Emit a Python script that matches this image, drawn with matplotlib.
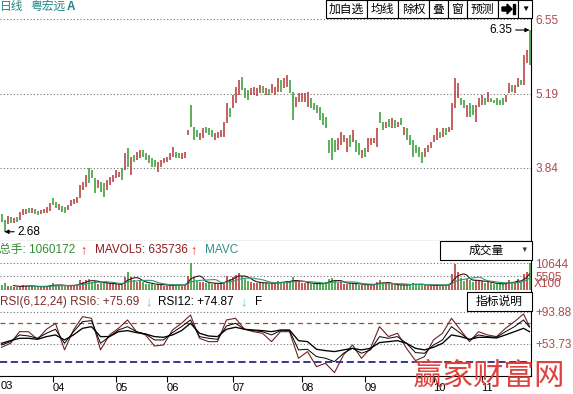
import numpy as np
import pandas as pd
import matplotlib
matplotlib.use('Agg')
import matplotlib.pyplot as plt
from matplotlib.patches import Rectangle, Polygon

plt.rcParams['font.family'] = ['Liberation Sans', 'Noto Sans CJK SC', 'DejaVu Sans']

# --- daily bars (粤宏远A, late March .. November) ---
highs = [3.00, 2.89, 2.97, 2.95, 2.93, 2.95, 3.04, 3.10, 3.10, 3.11,
         3.11, 3.10, 3.06, 3.08, 3.10, 3.13, 3.20, 3.30, 3.22, 3.19,
         3.15, 3.13, 3.17, 3.26, 3.28, 3.31, 3.53, 3.59, 3.71, 3.84,
         3.80, 3.66, 3.62, 3.59, 3.57, 3.62, 3.68, 3.71, 3.80, 3.77,
         3.84, 4.11, 4.20, 4.04, 4.08, 4.13, 4.17, 4.17, 4.11, 4.08,
         4.02, 3.99, 3.95, 3.99, 4.02, 4.04, 4.11, 4.22, 4.13, 4.11,
         4.11, 4.13, 4.53, 4.99, 4.59, 4.53, 4.48, 4.57, 4.59, 4.57,
         4.53, 4.48, 4.50, 4.53, 4.68, 5.02, 4.93, 5.17, 5.31, 5.44,
         5.50, 5.30, 5.26, 5.30, 5.31, 5.30, 5.35, 5.33, 5.30, 5.28,
         5.37, 5.31, 5.48, 5.44, 5.48, 5.53, 5.44, 5.22, 5.13, 5.20,
         5.20, 5.20, 5.22, 5.11, 5.02, 4.99, 4.95, 4.84, 4.77, 4.35,
         4.39, 4.35, 4.39, 4.50, 4.44, 4.39, 4.44, 4.53, 4.35, 4.30,
         4.17, 4.20, 4.39, 4.39, 4.39, 4.57, 4.86, 4.68, 4.68, 4.73,
         4.75, 4.71, 4.68, 4.75, 4.59, 4.57, 4.44, 4.35, 4.26, 4.22,
         4.13, 4.20, 4.26, 4.31, 4.44, 4.57, 4.50, 4.57, 4.57, 4.59,
         5.02, 5.48, 5.39, 5.11, 5.08, 4.99, 5.02, 4.99, 4.99, 5.11,
         5.17, 5.11, 5.22, 5.11, 5.08, 5.11, 5.08, 5.11, 5.17, 5.39,
         5.35, 5.35, 5.48, 5.44, 5.90, 5.99, 6.35]
lows = [2.86, 2.68, 2.82, 2.84, 2.84, 2.86, 2.89, 2.99, 3.00, 3.02,
        3.02, 3.00, 2.99, 3.00, 3.02, 3.02, 3.06, 3.17, 3.11, 3.08,
        3.04, 3.02, 3.08, 3.15, 3.19, 3.20, 3.30, 3.44, 3.50, 3.57,
        3.66, 3.39, 3.48, 3.40, 3.31, 3.44, 3.53, 3.59, 3.66, 3.68,
        3.62, 3.80, 3.86, 3.71, 3.95, 3.99, 4.02, 4.04, 3.99, 3.93,
        3.86, 3.86, 3.77, 3.86, 3.93, 3.95, 3.99, 4.04, 4.02, 4.02,
        4.00, 4.02, 4.44, 4.59, 4.35, 4.40, 4.35, 4.39, 4.48, 4.44,
        4.40, 4.35, 4.39, 4.40, 4.40, 4.66, 4.77, 4.93, 5.02, 5.17,
        5.26, 5.11, 5.08, 5.17, 5.17, 5.15, 5.20, 5.20, 5.17, 5.17,
        5.20, 5.17, 5.22, 5.22, 5.30, 5.31, 5.20, 4.71, 4.95, 5.04,
        5.04, 5.04, 4.95, 4.93, 4.90, 4.84, 4.71, 4.62, 4.57, 4.11,
        3.99, 4.13, 4.17, 4.26, 4.31, 4.13, 4.22, 4.31, 4.13, 4.08,
        4.02, 4.04, 4.13, 4.26, 4.30, 4.22, 4.66, 4.53, 4.57, 4.59,
        4.57, 4.57, 4.59, 4.62, 4.44, 4.35, 4.26, 4.04, 4.11, 4.04,
        3.93, 4.04, 4.13, 4.20, 4.31, 4.35, 4.39, 4.40, 4.44, 4.50,
        4.53, 4.93, 5.11, 4.99, 4.93, 4.77, 4.77, 4.80, 4.68, 4.95,
        4.99, 4.99, 5.04, 5.04, 5.02, 4.99, 4.99, 4.99, 5.04, 5.20,
        5.22, 5.20, 5.31, 5.35, 5.35, 5.75, 5.71]
# r = up day, g = down day
updown = ("ggrgrgrrrg" "rggrrrrggr" "ggrrrrrrrg" "ggrggrrrrr" "grgrgrrggg"
          "ggrrrrrrgg" "rrrgggrrgg" "grrrrrgrrr" "gggrrrrgrg" "rrrgrrggrr"
          "rrrggggggg" "ggrrrrgrgg" "rgrrrrggrg" "rgrgrggggg" "grrrrrgrgr"
          "rrrggrggrr" "rgrgggggrr" "grrgrrg")
# volume in units of 100 lots
volumes = [1800, 2600, 1500, 1400, 1300, 1200, 1700, 1900, 1600, 1500,
           1400, 1300, 1200, 1300, 1400, 1600, 2100, 2600, 1900, 1700,
           1500, 1600, 1700, 2000, 1900, 2100, 3800, 3200, 3900, 4500,
           3000, 3600, 2500, 2700, 3100, 2600, 2200, 2300, 2400, 1900,
           2500, 5200, 7100, 5000, 3900, 3300, 3600, 3000, 2400, 2200,
           2300, 2000, 2500, 1900, 1700, 1600, 1700, 2400, 2100, 1800,
           1700, 2000, 5500, 10644, 4800, 3600, 3200, 3000, 2900, 2600,
           2400, 2700, 2500, 2800, 3300, 5700, 4200, 5200, 6000, 6600,
           5600, 4200, 3500, 3000, 2900, 2800, 3100, 2700, 2600, 2500,
           2900, 2700, 3400, 3100, 3300, 3600, 3000, 5200, 3500, 3100,
           2800, 2600, 2900, 2500, 2400, 2300, 2600, 2800, 3000, 4300,
           4800, 3600, 2900, 3000, 2400, 2500, 2600, 2800, 2300, 2100,
           2000, 1900, 2300, 2100, 1900, 3300, 3900, 2800, 2400, 2200,
           2300, 2000, 1800, 1900, 2000, 2200, 2400, 2700, 2100, 2000,
           2300, 1800, 1700, 1600, 1800, 2200, 1900, 2000, 1800, 2100,
           6200, 10100, 7200, 4600, 3700, 4300, 3800, 3300, 4100, 3500,
           3600, 2900, 3100, 2600, 2400, 2300, 2500, 2400, 2900, 3800,
           3000, 3300, 4500, 3000, 6500, 7200, 10602]

# RSI, every third day
rsi_days = list(range(0, 175, 3)) + [176]
rsi6 = [49.6, 54.6, 69.2, 69.2, 59.6, 72.2, 79.7, 46.3, 71.3, 88.0,
        86.0, 46.3, 65.1, 73.4, 83.9, 69.2, 65.1, 51.2, 52.5, 71.3,
        79.7, 90.1, 60.9, 56.7, 56.7, 83.9, 86.0, 72.2, 69.2, 67.2,
        56.7, 69.2, 69.2, 35.8, 44.2, 25.3, 29.5, 17.8, 40.0, 52.5,
        35.8, 48.3, 75.5, 63.0, 67.2, 48.3, 32.9, 37.9, 58.8, 67.2,
        86.0, 71.3, 56.7, 69.2, 65.1, 63.0, 73.4, 81.8, 91.4, 75.69]
rsi12 = [52.5, 56.7, 65.1, 63.8, 60.9, 67.2, 72.2, 54.6, 69.2, 81.8,
         83.0, 54.6, 63.0, 71.3, 75.5, 69.2, 66.3, 58.8, 58.8, 68.0,
         75.5, 83.9, 63.0, 60.9, 59.6, 76.3, 79.7, 72.2, 70.5, 69.2,
         65.1, 70.5, 70.5, 46.3, 47.1, 37.9, 35.8, 31.6, 42.1, 48.3,
         42.1, 46.3, 63.0, 60.9, 63.0, 54.6, 42.9, 42.1, 52.5, 58.8,
         75.5, 67.2, 58.8, 65.1, 63.0, 62.1, 69.2, 75.5, 83.9, 74.87]
rsi24 = [54.6, 57.9, 60.9, 60.9, 59.6, 63.0, 65.1, 58.8, 65.1, 73.4,
         75.5, 63.0, 63.0, 69.2, 70.5, 68.0, 66.3, 63.0, 62.1, 65.1,
         70.5, 79.7, 67.2, 63.8, 63.0, 72.2, 74.7, 72.2, 71.3, 70.5,
         69.2, 71.3, 71.3, 57.9, 56.7, 47.1, 45.4, 44.2, 46.3, 48.3,
         46.3, 48.3, 55.5, 56.7, 57.9, 54.6, 48.3, 46.3, 49.6, 54.6,
         65.1, 63.0, 59.6, 62.1, 62.1, 61.3, 65.1, 69.2, 73.4, 69.2]

month_days = [17, 38, 55, 77, 100, 121, 144, 160]
month_labels = ['04', '05', '06', '07', '08', '09', '10', '11']
price_marks = [3.84, 5.19, 6.55]
vol_marks = [5505, 10644]
rsi_marks = [53.73, 93.88]

RED = '#b33535'
GREEN = '#2f9a2f'
AXRED = '#b04848'
DOT = (0, (1, 2))

days = np.arange(len(highs))
bar_cols = [RED if c == 'r' else GREEN for c in updown]

W, H = 573, 394
fig = plt.figure(figsize=(W / 100, H / 100), dpi=100)


def panel(top, bottom):
    return fig.add_axes([0, 1 - bottom / H, 531 / W, (bottom - top) / H])


ax_p = panel(0, 241)
ax_v = panel(241, 290)
ax_r = panel(290, 376)

for ax in (ax_p, ax_v, ax_r):
    ax.set_xlim(-0.5, len(highs) - 0.5)
    for s in ('left', 'top'):
        ax.spines[s].set_visible(False)
    ax.spines['right'].set_color('black')
    ax.spines['bottom'].set_color('black')
    ax.yaxis.tick_right()
    ax.tick_params(axis='y', length=0, pad=3, labelsize=8.5, labelcolor=AXRED)

# --- price panel ---
ax_p.set_ylim(2.512, 6.896)
for v in price_marks:
    ax_p.axhline(v, color='#707070', lw=0.8, ls=DOT)
ax_p.vlines(days, lows, highs, colors=bar_cols, lw=1.1)
ax_p.set_yticks(price_marks, [f'{v:.2f}' for v in price_marks])
ax_p.set_xticks([])
ax_p.annotate('6.35', xy=(days[-1], max(highs)), xytext=(-12, 0),
              textcoords='offset points', ha='right', va='center', fontsize=8.5,
              arrowprops=dict(arrowstyle='-|>', color='black', lw=0.8,
                              shrinkA=0, shrinkB=0, mutation_scale=6))
ax_p.annotate('2.68', xy=(1, min(lows)), xytext=(9, 0),
              textcoords='offset points', ha='left', va='center', fontsize=8.5,
              arrowprops=dict(arrowstyle='-|>', color='black', lw=0.8,
                              shrinkA=0, shrinkB=0, mutation_scale=6))

# --- volume panel ---
ax_v.set_ylim(0, 19355)
for v in vol_marks:
    ax_v.axhline(v, color='#707070', lw=0.8, ls=DOT)
ax_v.vlines(days, 0, volumes, colors=bar_cols, lw=1.15)
vol_s = pd.Series(volumes)
ax_v.plot(days, vol_s.rolling(5).mean(), color='#3a1414', lw=0.8)
ax_v.plot(days, vol_s.rolling(10).mean(), color='#2e9a7a', lw=0.8)
ax_v.set_yticks(vol_marks, [str(v) for v in vol_marks])
ax_v.set_xticks([])

# --- RSI panel ---
ax_r.set_ylim(13.56, 121.49)
for v in rsi_marks:
    ax_r.axhline(v, color='#707070', lw=0.8, ls=DOT)
ax_r.axhline(80, color='#a04848', lw=0.9, ls=(0, (4, 3)))
ax_r.axhline(31, color='#2a2a80', lw=1.3, ls=(0, (4, 2)))
ax_r.plot(rsi_days, rsi6, color='#6e2222', lw=0.8)
ax_r.plot(rsi_days, rsi12, color='black', lw=0.7)
ax_r.plot(rsi_days, rsi24, color='black', lw=0.95)
ax_r.set_yticks(rsi_marks, [f'+{v:.2f}' for v in rsi_marks])
ax_r.set_xticks(month_days, month_labels)
ax_r.tick_params(axis='x', direction='out', length=4, pad=1, labelsize=8)
for lab in ax_r.get_xticklabels():
    lab.set_horizontalalignment('left')

# --- overlay for header texts and buttons (pixel coordinates) ---
ov = fig.add_axes([0, 0, 1, 1], zorder=10)
ov.set_xlim(0, W)
ov.set_ylim(H, 0)
ov.axis('off')
ov.patch.set_alpha(0)

ov.text(0, 7, '日线', color='#208585', fontsize=8.5, va='center')
ov.text(30, 7, '粤宏远', color='#208585', fontsize=8.5, va='center')
ov.text(67, 7, 'A', color='#208585', fontsize=8.5, va='center', fontweight='bold')

# toolbar
edges = [326, 367, 398, 429, 448, 467, 498, 518, 532]
names = ['加自选', '均线', '除权', '叠', '窗', '预测', '', '▼']
for x0, x1, nm in zip(edges[:-1], edges[1:], names):
    ov.add_patch(Rectangle((x0, 0), x1 - x0, 18, facecolor='white',
                           edgecolor='black', lw=0.8))
    if nm:
        ov.text((x0 + x1) / 2, 9.5, nm, ha='center', va='center',
                fontsize=6 if nm == '▼' else 8.5)
ov.add_patch(Polygon([(502, 7), (507, 7), (507, 4), (512, 9), (507, 14),
                      (507, 11), (502, 11)], closed=True, color='black'))
ov.add_patch(Rectangle((512.5, 4), 2, 10, color='black'))

# volume header
ov.text(-1, 250, '总手: 1060172', color='#2f8f2f', fontsize=8.5, va='center')
ov.text(80, 250, '↑', color='#e02020', fontsize=9, va='center', fontweight='bold')
ov.text(95, 250, 'MAVOL5: 635736', color='#8b1c1c', fontsize=8.5, va='center')
ov.text(190, 250, '↑', color='#e02020', fontsize=9, va='center', fontweight='bold')
ov.text(205, 250, 'MAVC', color='#2f8f8f', fontsize=8.5, va='center')
ov.add_patch(Rectangle((440, 241), 92, 19, facecolor='white', edgecolor='black', lw=0.8))
ov.text(486, 250.5, '成交量', ha='center', va='center', fontsize=8.5)
ov.text(524, 250.5, '▼', ha='center', va='center', fontsize=5.5, color='#404040')
ov.text(534, 284, 'X100', color=AXRED, fontsize=8.5, va='center')

# RSI header
ov.text(0, 302, 'RSI(6,12,24) RSI6: +75.69', color='#7b2b2b', fontsize=8.5, va='center')
ov.text(145, 302, '↓', color='#40c8d8', fontsize=9, va='center', fontweight='bold')
ov.text(158, 302, 'RSI12: +74.87', color='black', fontsize=8.5, va='center')
ov.text(240, 302, '↓', color='#40c8d8', fontsize=9, va='center', fontweight='bold')
ov.text(255, 302, 'F', color='black', fontsize=8.5, va='center')
ov.add_patch(Rectangle((467, 292), 65, 19, facecolor='white', edgecolor='black', lw=0.8))
ov.text(499.5, 301.5, '指标说明', ha='center', va='center', fontsize=8.5)

ov.text(1, 386, '03', fontsize=8, va='center')

# watermark
ov.text(413, 376, '赢家财富网', color='#e03a34', fontsize=22, va='center',
        ha='left', family=['Noto Sans CJK SC'], fontweight='light', alpha=0.95)

fig.savefig('out.png', dpi=100)
